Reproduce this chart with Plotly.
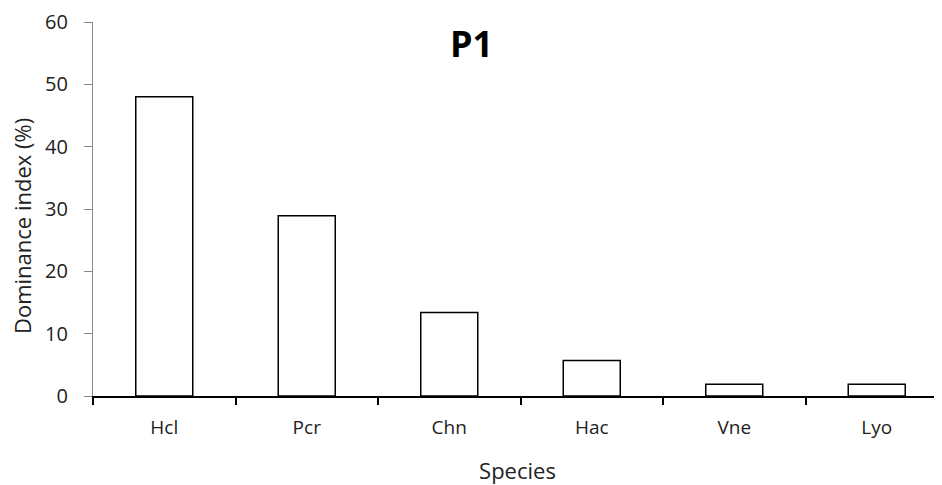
import plotly.graph_objects as go

species = ["Hcl", "Pcr", "Chn", "Hac", "Vne", "Lyo"]
dominance = [48.0, 28.9, 13.4, 5.7, 1.9, 1.9]
y_ticks = [0, 10, 20, 30, 40, 50, 60]

FONT = "Open Sans"

# page body has an 8px margin; compensate so plot area lands where the reference has it
W, H = 934, 477
L, T, B, R = 85, 14, 89, 0
plot_w = W - L - R
plot_h = H - T - B

fig = go.Figure(
    go.Bar(
        x=species,
        y=dominance,
        width=0.4,
        marker=dict(color="white", line=dict(color="black", width=1.5)),
    )
)

fig.update_layout(
    width=W,
    height=H,
    margin=dict(l=L, r=R, t=T, b=B),
    plot_bgcolor="white",
    paper_bgcolor="white",
    showlegend=False,
    font=dict(family=FONT, size=19, color="#222"),
    annotations=[
        dict(
            text="<b>P1</b>",
            x=(471 - 93) / 849, y=(396 - 43) / 374,
            xref="paper", yref="paper", yanchor="middle", xanchor="center",
            showarrow=False, font=dict(size=36, color="black", family=FONT),
        ),
        dict(
            text="Dominance index (%)",
            x=(22 - 93) / 849, y=(396 - 226) / 374,
            xref="paper", yref="paper", yanchor="middle", xanchor="center",
            textangle=-90,
            showarrow=False, font=dict(size=22, color="#222", family=FONT),
        ),
    ],
)

cat_px = 142.5
fig.update_xaxes(
    range=[-0.5, -0.5 + plot_w / cat_px],
    showline=True,
    linecolor="black",
    linewidth=1.5,
    ticks="outside",
    tickson="boundaries",
    ticklen=7,
    tickcolor="black",
    tickwidth=1.5,
    ticklabelstandoff=13,
    tickfont=dict(size=19),
    showgrid=False,
    zeroline=False,
    title=dict(text="Species", font=dict(size=22), standoff=25),
)
fig.update_yaxes(
    range=[0, 60],
    tickvals=y_ticks,
    showline=True,
    linecolor="#888",
    linewidth=1.2,
    ticks="outside",
    ticklen=8,
    tickcolor="#888",
    ticklabelstandoff=12,
    tickfont=dict(size=20),
    showgrid=False,
    zeroline=False,
)

fig.write_html("out.html")
